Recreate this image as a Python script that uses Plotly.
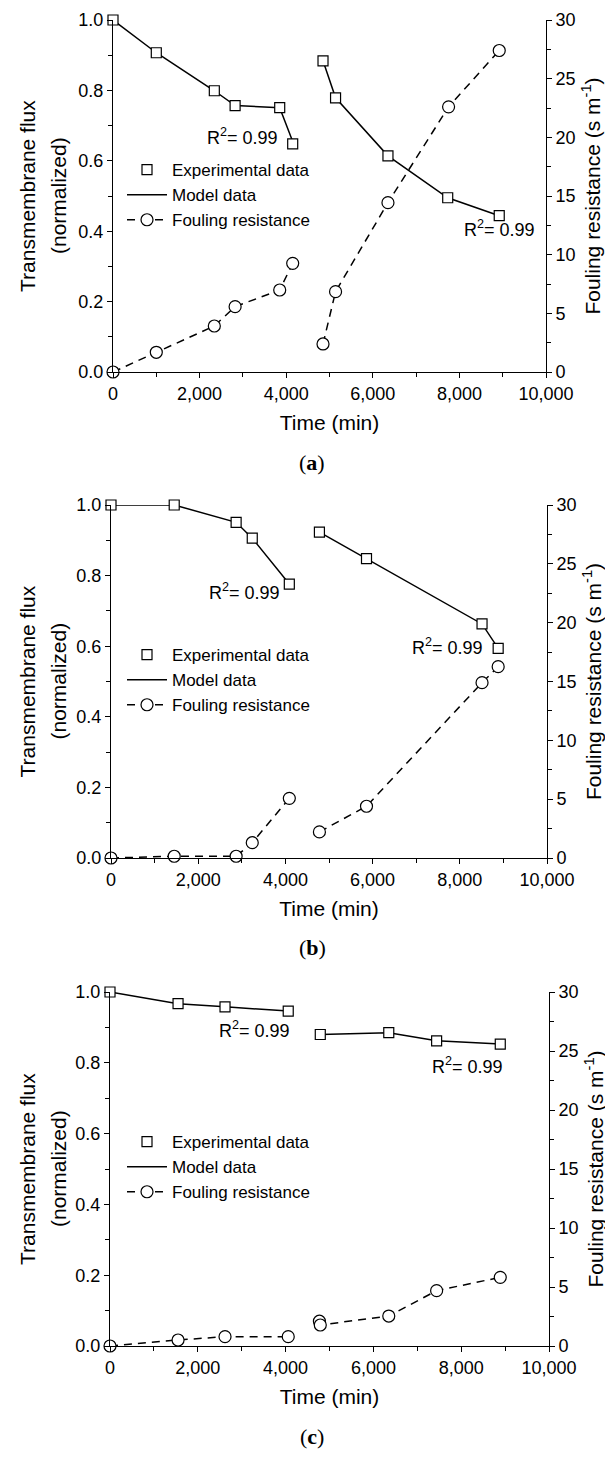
import plotly.graph_objects as go

# page body adds an 8px margin; figure is sized so that it fits the 613x1461 window
OFF = 8
W, H = 613 - OFF, 1461 - OFF

# ---------------- data ----------------
# Panel (a)
a_t1 = [0, 1000, 2340, 2820, 3850, 4150]
a_flux1 = [1.0, 0.907, 0.799, 0.757, 0.751, 0.648]
a_model1 = [1.0, 0.907, 0.799, 0.757, 0.751, 0.655]
a_foul1 = [0, 1.68, 3.92, 5.57, 6.99, 9.26]
a_t2 = [4850, 5140, 6350, 7730, 8920]
a_flux2 = [0.884, 0.779, 0.614, 0.495, 0.444]
a_model2 = [0.884, 0.779, 0.614, 0.495, 0.444]
a_tf2 = [4850, 5140, 6350, 7750, 8920]
a_foul2 = [2.39, 6.85, 14.43, 22.6, 27.4]

# Panel (b)
b_t1 = [0, 1450, 2870, 3240, 4090]
b_flux1 = [1.0, 1.0, 0.951, 0.906, 0.776]
b_model1 = [1.0, 1.0, 0.951, 0.906, 0.776]
b_foul1 = [0, 0.15, 0.15, 1.3, 5.07]
b_t2 = [4780, 5860, 8510, 8880]
b_flux2 = [0.923, 0.848, 0.663, 0.594]
b_model2 = [0.923, 0.848, 0.663, 0.594]
b_tf2 = [4780, 5860, 8510, 8880]
b_foul2 = [2.22, 4.4, 14.9, 16.26]

# Panel (c)
c_t1 = [0, 1550, 2620, 4060]
c_flux1 = [1.0, 0.967, 0.958, 0.946]
c_model1 = [1.0, 0.967, 0.958, 0.946]
c_foul1 = [0, 0.51, 0.79, 0.79]
c_t2 = [4790, 6350, 7440, 8890]
c_flux2 = [0.880, 0.885, 0.862, 0.853]
c_model2 = [0.880, 0.885, 0.862, 0.853]
c_tf2 = [4770, 4790, 6350, 7440, 8890]
c_foul2 = [2.1, 1.78, 2.54, 4.69, 5.82]

r2_label = "R<sup>2</sup>= 0.99"
legend_names = ["Experimental data", "Model data", "Fouling resistance"]
panel_labels = ["a", "b", "c"]

# ---------------- layout geometry (window pixels) ----------------
FONT = "Liberation Sans, Arial, sans-serif"
panels = [
    dict(x0=113, x1=546, top=20, bottom=372, leg_top=152,
         r2=[(3850, 0.668), (9790, 0.409)]),
    dict(x0=111, x1=547, top=505, bottom=858, leg_top=637,
         r2=[(3920, 0.754), (8580, 0.598)]),
    dict(x0=110, x1=549, top=992, bottom=1346, leg_top=1124,
         r2=[(4150, 0.893), (9000, 0.791)]),
]
data = [
    (a_t1, a_flux1, a_model1, a_foul1, a_t2, a_flux2, a_model2, a_tf2, a_foul2),
    (b_t1, b_flux1, b_model1, b_foul1, b_t2, b_flux2, b_model2, b_tf2, b_foul2),
    (c_t1, c_flux1, c_model1, c_foul1, c_t2, c_flux2, c_model2, c_tf2, c_foul2),
]

def px_x(p):
    return (p - OFF) / W

def px_y(p):
    return 1 - (p - OFF) / H

fig = go.Figure()
layout = {}
annotations = []

sq = dict(symbol="square", size=10, color="white", line=dict(color="black", width=1.2))
ci = dict(symbol="circle", size=12, color="white", line=dict(color="black", width=1.2))
solid = dict(color="black", width=1.5)
dashed = dict(color="black", width=1.5, dash="8px,6px")

for i, (pg, d) in enumerate(zip(panels, data)):
    n = i + 1
    xa = "x" if n == 1 else f"x{n}"
    ya = f"y{2*n-1}" if n > 1 else "y"
    yb = f"y{2*n}"
    leg = "legend" if n == 1 else f"legend{n}"
    t1, f1, m1, r1, t2, f2, m2, tf2, r2 = d

    for k, (tt, mm) in enumerate([(t1, m1), (t2, m2)]):
        fig.add_trace(go.Scatter(x=tt, y=mm, mode="lines", line=solid, name=legend_names[1],
                                 xaxis=xa, yaxis=ya, legend=leg, showlegend=(k == 0),
                                 cliponaxis=False, legendrank=2))
    for k, (tt, ff) in enumerate([(t1, f1), (t2, f2)]):
        fig.add_trace(go.Scatter(x=tt, y=ff, mode="markers", marker=sq, name=legend_names[0],
                                 xaxis=xa, yaxis=ya, legend=leg, showlegend=(k == 0),
                                 cliponaxis=False, legendrank=1))
    for k, (tt, rr) in enumerate([(t1, r1), (tf2, r2)]):
        fig.add_trace(go.Scatter(x=tt, y=rr, mode="lines+markers", marker=ci, line=dashed,
                                 name=legend_names[2], xaxis=xa, yaxis=yb, legend=leg,
                                 showlegend=(k == 0), cliponaxis=False, legendrank=3))

    xdom = [px_x(pg["x0"]), px_x(pg["x1"])]
    ydom = [px_y(pg["bottom"]), px_y(pg["top"])]
    common = dict(showline=True, linecolor="black", linewidth=1, ticks="outside", ticklen=5,
                  tickcolor="black", tickwidth=1, showgrid=False, zeroline=False,
                  automargin=False,
                  tickfont=dict(family=FONT, size=18, color="black"))
    xkey = "xaxis" if n == 1 else f"xaxis{n}"
    ykey = "yaxis" if n == 1 else f"yaxis{2*n-1}"
    y2key = f"yaxis{2*n}"
    layout[xkey] = dict(domain=xdom, anchor=ya, range=[0, 10000], dtick=2000,
                        tickformat=",d", minor=dict(dtick=1000, ticks="outside", ticklen=4,
                                                     tickcolor="black"),
                        title=dict(text="Time (min)", font=dict(family=FONT, size=21, color="black"),
                                   standoff=12),
                        **common)
    layout[ykey] = dict(domain=ydom, anchor=xa, range=[0, 1], dtick=0.2, tickformat=".1f",
                        minor=dict(dtick=0.1, ticks="outside", ticklen=4, tickcolor="black"),
                        **common)
    layout[y2key] = dict(overlaying=ya, side="right", anchor=xa, range=[0, 30], dtick=5,
                         minor=dict(dtick=2.5, ticks="outside", ticklen=4, tickcolor="black"),
                         title=dict(text="Fouling resistance (s m<sup>-1</sup>)",
                                    font=dict(family=FONT, size=21, color="black"), standoff=10),
                         **common)
    layout[leg] = dict(x=px_x(122), y=px_y(pg["leg_top"]), xanchor="left", yanchor="top",
                       xref="paper", yref="paper", bgcolor="rgba(0,0,0,0)",
                       font=dict(family=FONT, size=17, color="black"), itemwidth=40,
                       tracegroupgap=0)

    # R^2 labels
    for (rx, ry) in pg["r2"]:
        annotations.append(dict(x=rx, y=ry, xref=xa, yref=ya, text=r2_label, showarrow=False,
                                xanchor="right", yanchor="middle",
                                font=dict(family=FONT, size=18, color="black")))
    # left y-axis title (two lines)
    yc = px_y((pg["top"] + pg["bottom"]) / 2)
    annotations.append(dict(x=px_x(27), y=yc, xref="paper", yref="paper", text="Transmembrane flux",
                            textangle=-90, showarrow=False, xanchor="center", yanchor="middle",
                            font=dict(family=FONT, size=21, color="black")))
    annotations.append(dict(x=px_x(58), y=yc, xref="paper", yref="paper", text="(normalized)",
                            textangle=-90, showarrow=False, xanchor="center", yanchor="middle",
                            font=dict(family=FONT, size=21, color="black")))
    # panel label
    annotations.append(dict(x=px_x(312), y=px_y(pg["bottom"] + 90), xref="paper", yref="paper",
                            text=f"(<b>{panel_labels[i]}</b>)", showarrow=False,
                            xanchor="center", yanchor="middle",
                            font=dict(family="Liberation Serif, DejaVu Serif, serif", size=22,
                                      color="black")))

fig.update_layout(width=W, height=H, margin=dict(l=0, r=0, t=0, b=0, autoexpand=False),
                  plot_bgcolor="white", paper_bgcolor="white", annotations=annotations,
                  **layout)

fig.write_html("out.html")
